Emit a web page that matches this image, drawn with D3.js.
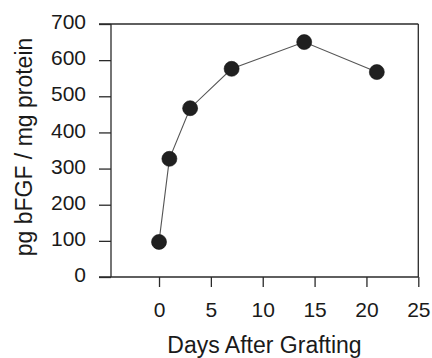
<!DOCTYPE html>
<html>
<head>
<meta charset="utf-8">
<script src="https://cdn.jsdelivr.net/npm/d3@7"></script>
<style>
  html, body { margin: 0; padding: 0; background: #fff; }
  svg { display: block; font-family: "Liberation Sans", Arial, sans-serif; }
</style>
</head>
<body>
<svg id="chart" width="432" height="358"></svg>
<script>
// data
const days = [0, 1, 3, 7, 14, 21];
const bfgf = [97, 327, 467, 576, 650, 567];
const xTicks = [0, 5, 10, 15, 20, 25];
const yTicks = [0, 100, 200, 300, 400, 500, 600, 700];

const svg = d3.select('#chart');
const ink = '#1a1a1a';

// x runs a bit below zero so the first point sits clear of the y axis
const x = d3.scaleLinear().domain([-4.63, 25]).range([111, 418.3]);
const y = d3.scaleLinear().domain([0, 700]).range([277, 24]);

// frame: top / right / bottom, bottom and top run out to tick length
const frame = svg.append('g').attr('stroke', '#2a2a2a').attr('stroke-width', 1.3).attr('fill', 'none');
frame.append('line').attr('x1', 99).attr('x2', x(25)).attr('y1', y(700)).attr('y2', y(700));
frame.append('line').attr('x1', x(25)).attr('x2', x(25)).attr('y1', y(700)).attr('y2', y(0));
frame.append('line').attr('x1', 99).attr('x2', x(25)).attr('y1', y(0)).attr('y2', y(0));
frame.append('line').attr('x1', x(-4.63)).attr('x2', x(-4.63)).attr('y1', y(700)).attr('y2', y(0));

// y axis
const yAxis = svg.append('g')
  .attr('transform', `translate(${x(-4.63)},0)`)
  .call(d3.axisLeft(y).tickValues(yTicks).tickSize(12).tickPadding(13));
yAxis.select('.domain').remove();
yAxis.selectAll('line').attr('stroke', '#2a2a2a').attr('stroke-width', 1.3);
yAxis.selectAll('text')
  .attr('fill', ink).attr('font-size', 21).attr('dy', '0.22em')
  .attr('font-family', '"Liberation Sans", Arial, sans-serif');

// x axis
const xAxis = svg.append('g')
  .attr('transform', `translate(0,${y(0)})`)
  .call(d3.axisBottom(x).tickValues(xTicks).tickSize(10).tickPadding(15));
xAxis.select('.domain').remove();
xAxis.selectAll('line').attr('stroke', '#2a2a2a').attr('stroke-width', 1.3);
xAxis.selectAll('text')
  .attr('fill', ink).attr('font-size', 21)
  .attr('font-family', '"Liberation Sans", Arial, sans-serif');

// axis titles
svg.append('text')
  .attr('transform', `translate(32,147) rotate(-90)`)
  .attr('text-anchor', 'middle')
  .attr('font-size', 23)
  .attr('fill', ink)
  .text('pg bFGF / mg protein');

svg.append('text')
  .attr('x', 264.5).attr('y', 353)
  .attr('text-anchor', 'middle')
  .attr('font-size', 23)
  .attr('fill', ink)
  .text('Days After Grafting');

// series
const pts = days.map((d, i) => ({ d, v: bfgf[i] }));

svg.append('path')
  .datum(pts)
  .attr('fill', 'none')
  .attr('stroke', '#555')
  .attr('stroke-width', 1.1)
  .attr('d', d3.line().x(p => x(p.d)).y(p => y(p.v)));

svg.append('g').selectAll('circle')
  .data(pts)
  .join('circle')
  .attr('cx', p => x(p.d))
  .attr('cy', p => y(p.v))
  .attr('r', 7.5)
  .attr('fill', '#202020')
  .attr('stroke', '#111')
  .attr('stroke-width', 0.6);
</script>
</body>
</html>
